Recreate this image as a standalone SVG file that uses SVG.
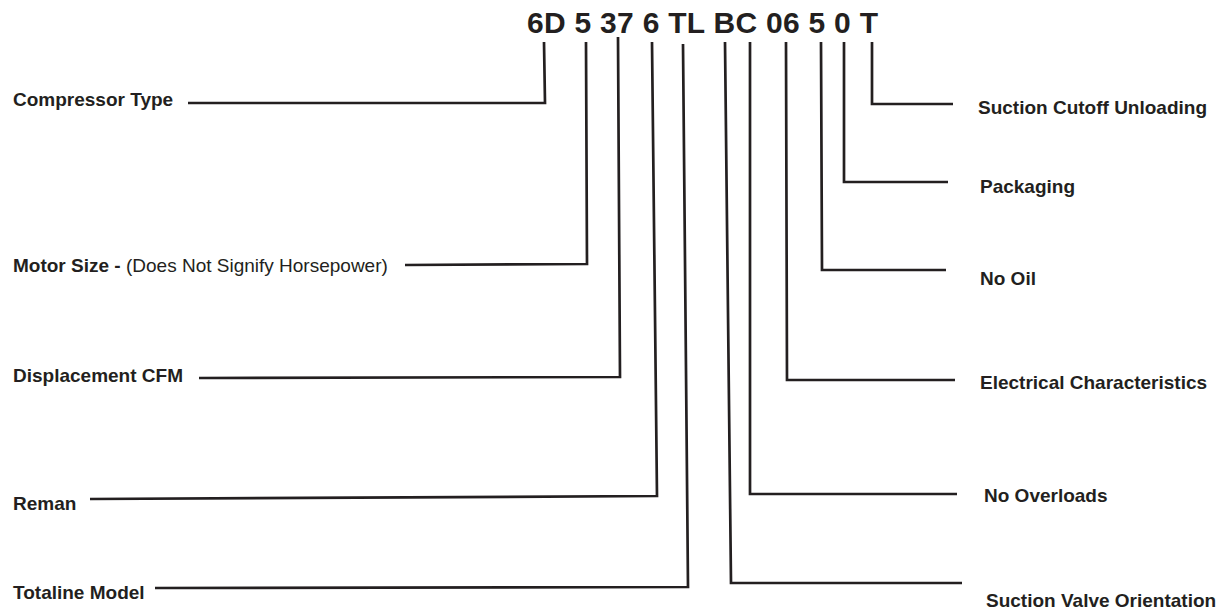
<svg xmlns="http://www.w3.org/2000/svg" width="1219" height="609" viewBox="0 0 1219 609">
<style>
.lbl{font-family:"Liberation Sans",Arial,sans-serif;font-size:19px;font-weight:bold;fill:#231f20}
.reg{font-weight:normal}
.title{font-family:"Liberation Sans",Arial,sans-serif;font-size:30px;font-weight:bold;fill:#231f20}
.ln{fill:none;stroke:#231f20;stroke-width:2.7;stroke-linejoin:miter;stroke-linecap:butt}
</style>
<rect width="1219" height="609" fill="#ffffff"/>
<g id="title"><text class="title" x="527" y="33" textLength="351" lengthAdjust="spacing">6D 5 37 6 TL BC 06 5 0 T</text></g>
<g id="compressor-type"><text class="lbl" x="13" y="106">Compressor Type</text></g>
<g id="motor-size"><text class="lbl" x="13" y="272">Motor Size - <tspan class="reg">(Does Not Signify Horsepower)</tspan></text></g>
<g id="displacement-cfm"><text class="lbl" x="13" y="382">Displacement CFM</text></g>
<g id="reman"><text class="lbl" x="13" y="510">Reman</text></g>
<g id="totaline-model"><text class="lbl" x="13" y="599">Totaline Model</text></g>
<g id="suction-cutoff"><text class="lbl" x="978" y="114">Suction Cutoff Unloading</text></g>
<g id="packaging"><text class="lbl" x="980" y="193">Packaging</text></g>
<g id="no-oil"><text class="lbl" x="980" y="285">No Oil</text></g>
<g id="electrical"><text class="lbl" x="980" y="389">Electrical Characteristics</text></g>
<g id="no-overloads"><text class="lbl" x="984" y="502">No Overloads</text></g>
<g id="suction-valve"><text class="lbl" x="986" y="607">Suction Valve Orientation</text></g>
<g id="connectors">
<path class="ln" d="M544,42 L545,103 L188,103"/>
<path class="ln" d="M586,42 L587,264 L405,265"/>
<path class="ln" d="M618,37 L620,377 L199,378"/>
<path class="ln" d="M652,42 L657,496 L90,499"/>
<path class="ln" d="M683,44 L688,587 L155,588"/>
<path class="ln" d="M725,42 L731,583 L962,583"/>
<path class="ln" d="M750,42 L750,494 L957,494"/>
<path class="ln" d="M786,42 L787,380 L955,380"/>
<path class="ln" d="M821,42 L822,270 L946,270"/>
<path class="ln" d="M844,42 L844,182 L948,182"/>
<path class="ln" d="M872,42 L872,104 L953,104"/>
</g>
</svg>
